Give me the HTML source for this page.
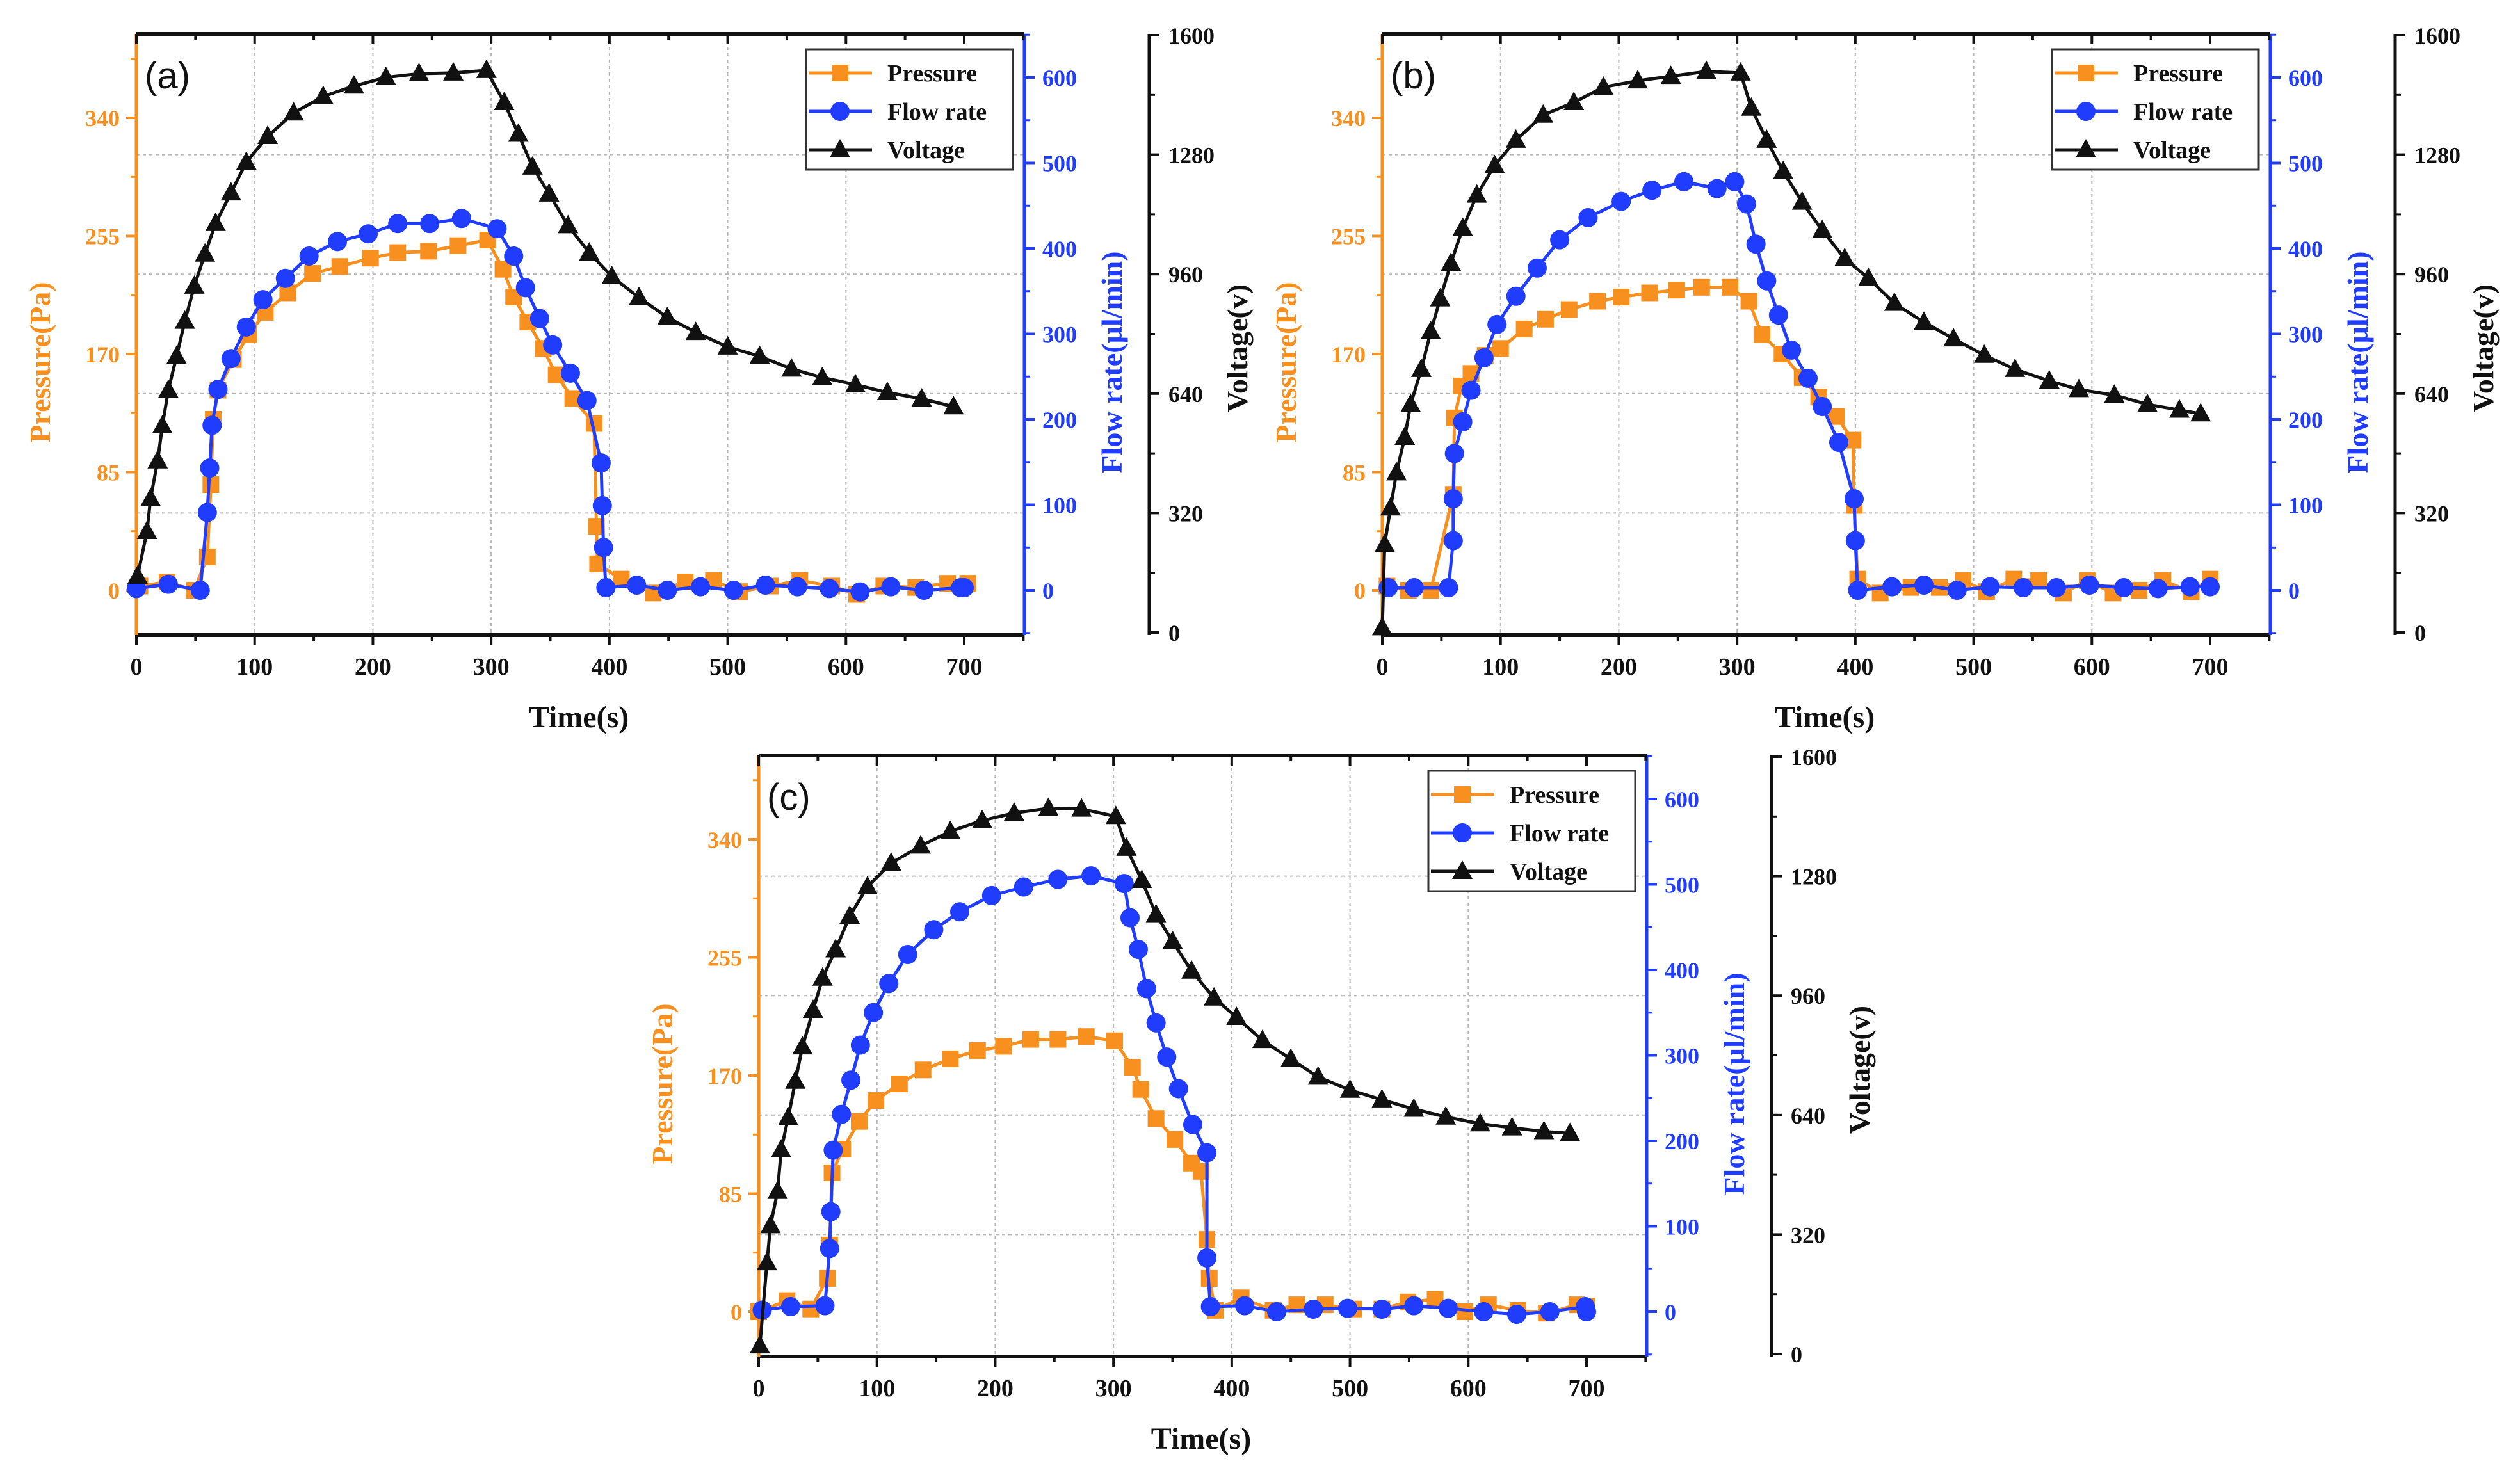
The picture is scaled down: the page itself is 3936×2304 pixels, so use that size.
<!DOCTYPE html>
<html><head><meta charset="utf-8"><style>
html,body{margin:0;padding:0;background:#fff;}
svg{display:block;}
text{font-family:"Liberation Serif",serif;font-weight:bold;}
</style></head><body>
<svg id="fig" width="3936" height="2304" viewBox="0 0 3936 2304" xmlns="http://www.w3.org/2000/svg"></svg>
<script>
// ---- panel (a) data ----
const voltTA=[1,9,12,18,22,27,34,41,49,58,67,80,93,111,133,158,184,211,239,268,296,311,323,335,349,365,383,402,425,449,473,500,527,554,580,608,635,664,691];
const voltVA=[151,271,359,460,554,649,740,834,928,1014,1096,1178,1260,1329,1392,1436,1464,1487,1497,1499,1506,1420,1335,1247,1175,1090,1017,954,897,844,804,765,740,706,683,664,643,626,605];
const flowTA=[0,27,54,60,62,64,69,80,93,107,126,146,170,196,221,248,275,305,319,329,341,352,367,381,393,394,395,397,423,449,477,505,532,559,586,612,638,666,697,700];
const flowVA=[2,7,0,91,143,193,235,271,308,340,365,391,408,417,429,429,435,423,391,354,318,287,254,222,149,99,50,3,6,0,4,0,6,4,2,-2,4,0,3,3];
const presTA=[3,26,49,60,63,65,69,82,95,109,128,149,172,198,221,247,272,297,310,319,331,344,355,369,387,389,390,410,437,464,488,510,536,561,588,609,632,659,686,703];
const presVA=[3,6,0,24,76,123,144,166,184,200,214,228,233,239,243,244,248,252,231,211,193,174,155,138,120,46,19,8,-2,6,7,-1,3,7,3,-3,3,2,5,5];
// ---- panel (b) data ----
const voltTB=[0,2,7,12,19,24,33,41,49,58,68,80,95,113,136,162,187,216,244,274,303,312,325,339,355,372,391,411,433,458,483,509,535,564,589,619,647,674,692];
const voltVB=[13,236,334,428,523,611,705,806,894,989,1083,1172,1251,1319,1386,1420,1461,1478,1490,1503,1499,1405,1319,1235,1153,1077,1002,949,882,831,787,743,705,674,651,636,611,596,586];
const flowTB=[5,27,56,60,60,61,68,75,86,97,113,131,150,174,202,228,255,283,298,308,316,325,335,346,360,372,386,399,400,402,431,458,486,514,542,570,598,627,656,683,700];
const flowVB=[3,3,3,58,107,160,197,234,272,311,344,377,410,436,455,468,478,470,478,452,405,362,322,281,248,215,173,107,58,0,4,6,0,4,3,3,6,3,2,4,4];
const presTB=[4,22,41,60,61,67,75,87,100,120,138,158,182,202,226,249,270,294,310,321,338,355,369,384,398,399,402,421,447,471,491,511,534,555,576,596,618,640,660,684,700];
const presVB=[3,0,0,69,124,147,156,169,174,188,195,202,208,211,214,216,218,218,208,184,170,153,139,125,108,61,8,-2,2,2,7,-1,8,7,-2,7,-2,0,7,-1,8];
// ---- panel (c) data ----
const voltTC=[1,7,10,16,19,25,31,37,46,54,65,77,92,112,137,162,189,216,245,273,302,311,324,336,350,366,385,404,426,450,473,500,527,554,581,610,637,664,686];
const voltVC=[22,245,344,436,547,633,731,823,921,1007,1083,1173,1252,1315,1361,1400,1429,1449,1462,1460,1440,1355,1269,1177,1105,1026,954,902,840,790,742,707,681,656,635,617,606,596,591];
const flowTC=[3,27,56,60,61,63,70,78,86,97,110,126,148,170,197,224,253,281,309,314,321,328,336,345,355,367,379,379,382,411,438,469,498,527,554,583,613,641,669,699,700];
const flowVC=[2,6,7,74,117,189,231,271,312,350,384,418,447,468,487,497,506,510,501,461,424,378,338,298,261,219,186,63,6,7,0,3,4,3,7,4,0,-3,0,6,0];
const presTC=[0,24,44,58,60,62,71,85,99,119,139,162,185,207,230,253,277,301,316,323,336,352,366,374,379,381,386,408,435,455,479,503,527,549,572,597,617,642,666,692,700];
const presVC=[0,8,2,24,48,100,117,137,152,164,174,182,188,191,196,196,198,195,176,160,139,124,107,101,52,24,1,10,1,5,5,2,2,7,9,0,5,1,-1,5,4];
// ---- axis ticks ----
const timeTicks=[0,100,200,300,400,500,600,700];
const presTicks=[0,85,170,255,340];
const flowTicks=[0,100,200,300,400,500,600];
const voltTicks=[0,320,640,960,1280,1600];

const NS="http://www.w3.org/2000/svg";
const svg=document.getElementById('fig');
const ORANGE="#F7901E", BLUE="#1F3CFF", BLACK="#111";
function mk(tag,attrs,parent){const e=document.createElementNS(NS,tag);for(const k in attrs)e.setAttribute(k,attrs[k]);(parent||svg).appendChild(e);return e;}

function panel(ox,oy,label,VT,VV,FT,FV,PT,PV,key){
  const g=mk('g',{transform:`translate(${ox},${oy})`});
  
  
  const L=213,R=1600,T=53,B=992;
  const X=t=>L+t*1293/700;
  const YP=p=>922-p*184.5/85;
  const YF=f=>922-f*1.335;
  const YV=v=>988-v*933/1600;
  for(const t of [100,200,300,400,500,600]){const l=mk('line',{x1:X(t),x2:X(t),y1:T,y2:B,stroke:'#b8b8b8','stroke-width':2,'stroke-dasharray':'5,5'},g);
    
    }
  for(const v of [320,640,960,1280]){const l=mk('line',{x1:L,x2:R,y1:YV(v),y2:YV(v),stroke:'#b8b8b8','stroke-width':2,'stroke-dasharray':'5,5'},g);
    
    }
  const top=mk('line',{x1:L,x2:R,y1:T,y2:T,stroke:BLACK,'stroke-width':6},g);
  
  
  const bot=mk('line',{x1:L,x2:R,y1:B,y2:B,stroke:BLACK,'stroke-width':6},g);
  
  
  const la=mk('line',{x1:L,x2:L,y1:T,y2:B,stroke:ORANGE,'stroke-width':5},g);
  
  
  const ra=mk('line',{x1:R,x2:R,y1:T,y2:B,stroke:BLUE,'stroke-width':5},g);
  
  
  const VX=1795;
  const va=mk('line',{x1:VX,x2:VX,y1:T,y2:B,stroke:BLACK,'stroke-width':5},g);
  
  
  for(let t=0;t<=750;t+=50){const len=(t%100===0)?16:9;
    mk('line',{x1:X(t),x2:X(t),y1:B,y2:B+len,stroke:BLACK,'stroke-width':4},g);
    mk('line',{x1:X(t),x2:X(t),y1:T,y2:T+len,stroke:BLACK,'stroke-width':4},g);}
  for(const t of timeTicks){const tx=mk('text',{x:X(t),y:B+62,'text-anchor':'middle','font-size':38,fill:BLACK},g);tx.textContent=t;
    
    }
  for(const p of presTicks){mk('line',{x1:L-16,x2:L,y1:YP(p),y2:YP(p),stroke:ORANGE,'stroke-width':4},g);
    const tx=mk('text',{x:L-26,y:YP(p)+13,'text-anchor':'end','font-size':36,fill:ORANGE,'font-weight':'normal'},g);tx.textContent=p;
    
    }
  for(const p of [42.5,127.5,212.5,297.5,382.5]){mk('line',{x1:L-9,x2:L,y1:YP(p),y2:YP(p),stroke:ORANGE,'stroke-width':3},g);}
  for(const f of flowTicks){mk('line',{x1:R,x2:R+16,y1:YF(f),y2:YF(f),stroke:BLUE,'stroke-width':4},g);
    const tx=mk('text',{x:R+28,y:YF(f)+13,'font-size':36,fill:BLUE,'font-weight':'normal'},g);tx.textContent=f;
    
    }
  for(let f=-50;f<=650;f+=100){mk('line',{x1:R,x2:R+9,y1:YF(f),y2:YF(f),stroke:BLUE,'stroke-width':3},g);}
  for(const v of voltTicks){mk('line',{x1:VX,x2:VX+16,y1:YV(v),y2:YV(v),stroke:BLACK,'stroke-width':4},g);
    const tx=mk('text',{x:VX+30,y:YV(v)+13,'font-size':36,fill:BLACK,'font-weight':'normal'},g);tx.textContent=v;
    
    }
  for(let v=160;v<1600;v+=320){mk('line',{x1:VX,x2:VX+9,y1:YV(v),y2:YV(v),stroke:BLACK,'stroke-width':3},g);}
  const t1=mk('text',{x:0,y:0,'text-anchor':'middle','font-size':46,fill:ORANGE,transform:`translate(78,566) rotate(-90)`},g);t1.textContent='Pressure(Pa)';
  
  
  const t2=mk('text',{x:0,y:0,'text-anchor':'middle','font-size':46,fill:BLUE,transform:`translate(1752,566) rotate(-90)`},g);t2.textContent='Flow rate(\u00b5l/min)';
  
  
  const t3=mk('text',{x:0,y:0,'text-anchor':'middle','font-size':46,fill:BLACK,transform:`translate(1948,544) rotate(-90)`},g);t3.textContent='Voltage(v)';
  
  
  const t4=mk('text',{x:904,y:1136,'text-anchor':'middle','font-size':48,fill:BLACK},g);t4.textContent='Time(s)';
  
  
  const pl=mk('text',{x:226,y:138,'font-size':58,fill:BLACK,style:'font-family:"Liberation Sans",sans-serif;font-weight:normal'},g);pl.textContent=label;
  
  
  const sq=(x,y,c,p)=>mk('rect',{x:x-13,y:y-13,width:26,height:26,fill:c},p);
  const ci=(x,y,c,p)=>mk('circle',{cx:x,cy:y,r:15,fill:c},p);
  const tr=(x,y,c,p)=>mk('polygon',{points:`${x},${y-17} ${x-16},${y+12} ${x+16},${y+12}`,fill:c},p);
  function series(T_,V_,Y,c,m,name){
    const sg=mk('g',{},g);
    
    
    const pts=T_.map((t,i)=>X(t)+','+Y(V_[i])).join(' ');
    mk('polyline',{points:pts,fill:'none',stroke:c,'stroke-width':5,'stroke-linejoin':'round'},sg);
    T_.forEach((t,i)=>{const e=m(X(t),Y(V_[i]),c,sg);
      
      });
  }
  series(PT,PV,YP,ORANGE,sq,'pressure');
  series(FT,FV,YF,BLUE,ci,'flow-rate');
  series(VT,VV,YV,BLACK,tr,'voltage');
  const lg=mk('g',{},g);
  
  
  mk('rect',{x:1259,y:77,width:323,height:188,fill:'#fff',stroke:'#333','stroke-width':3},lg);
  const ents=[['Pressure',ORANGE,sq,114],['Flow rate',BLUE,ci,174],['Voltage',BLACK,tr,234]];
  for(const [n,c,m,y] of ents){
    const eg=mk('g',{},lg);
    
    
    mk('line',{x1:1263,x2:1362,y1:y,y2:y,stroke:c,'stroke-width':5},eg);m(1312,y,c,eg);
    const tx=mk('text',{x:1386,y:y+13,'font-size':38,fill:BLACK},eg);tx.textContent=n;
  }
}
panel(0,0,'(a)',voltTA,voltVA,flowTA,flowVA,presTA,presVA,'a');
panel(1946,0,'(b)',voltTB,voltVB,flowTB,flowVB,presTB,presVB,'b');
panel(972,1127,'(c)',voltTC,voltVC,flowTC,flowVC,presTC,presVC,'c');
</script>
</body></html>
